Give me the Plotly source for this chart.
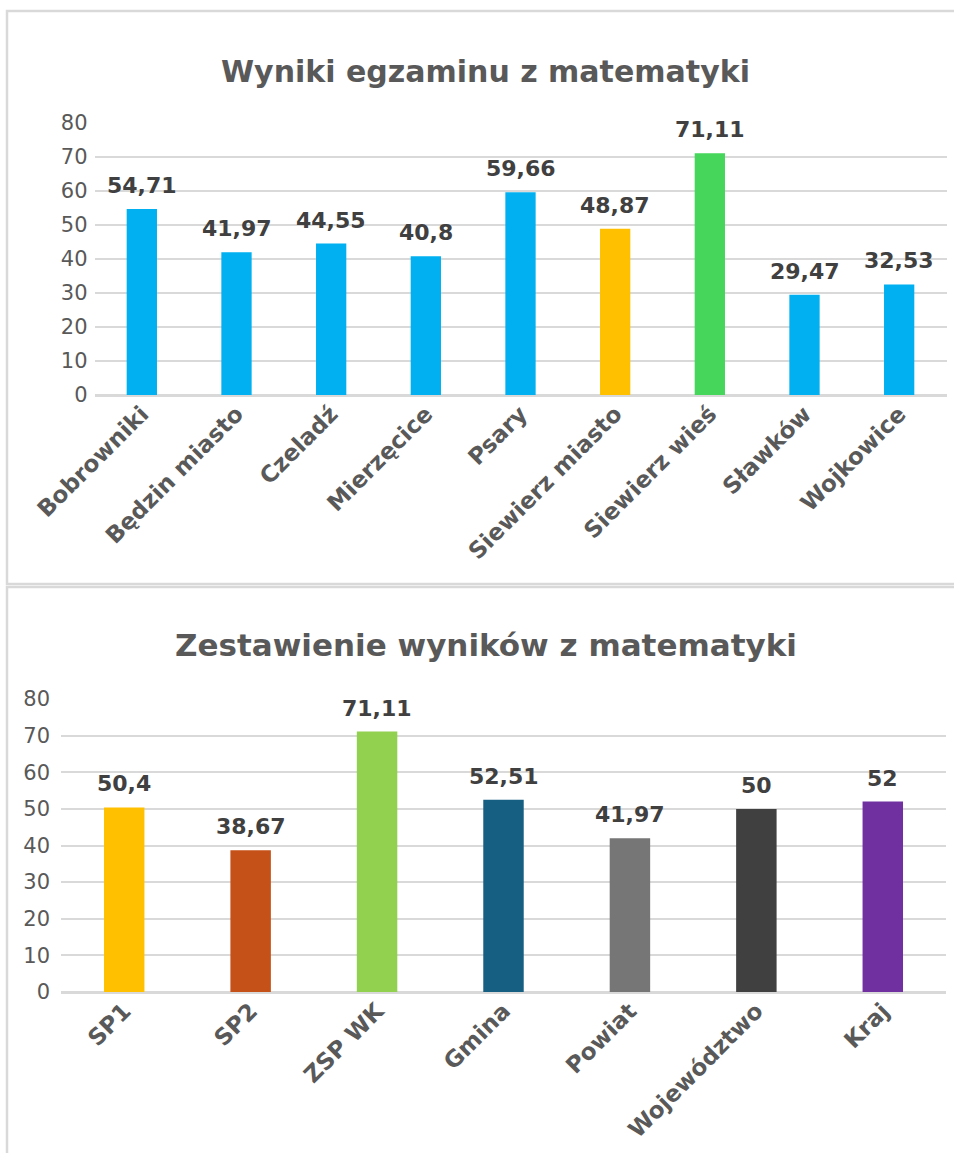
import plotly.graph_objects as go

# górny wykres - wyniki gmin
gminy = ["Bobrowniki", "Będzin miasto", "Czeladź", "Mierzęcice", "Psary",
         "Siewierz miasto", "Siewierz wieś", "Sławków", "Wojkowice"]
wyniki_gminy = [54.71, 41.97, 44.55, 40.8, 59.66, 48.87, 71.11, 29.47, 32.53]
kolory_gminy = ["#00B0F0", "#00B0F0", "#00B0F0", "#00B0F0", "#00B0F0",
                "#FFC000", "#45D65B", "#00B0F0", "#00B0F0"]

# dolny wykres - zestawienie
jednostki = ["SP1", "SP2", "ZSP WK", "Gmina", "Powiat", "Województwo", "Kraj"]
wyniki_jednostki = [50.4, 38.67, 71.11, 52.51, 41.97, 50, 52]
kolory_jednostki = ["#FFC000", "#C55018", "#92D050", "#175F82",
                    "#767676", "#404040", "#7030A0"]

y_ticks = [0, 10, 20, 30, 40, 50, 60, 70, 80]

W, H = 954, 1153
GRID = "#D9D9D9"
TXT = "#595959"
LBL = "#404040"


def fmt(v):
    return f"{v:g}".replace(".", ",")


def px_x(p):
    return p / W


def px_y(p):
    return 1 - p / H


fig = go.Figure()

fig.add_trace(go.Bar(
    x=gminy, y=wyniki_gminy, marker=dict(color=kolory_gminy, line=dict(width=0)),
    width=0.32, xaxis="x", yaxis="y", showlegend=False, hoverinfo="x+y",
))
fig.add_trace(go.Bar(
    x=jednostki, y=wyniki_jednostki, marker=dict(color=kolory_jednostki, line=dict(width=0)),
    width=0.32, xaxis="x2", yaxis="y2", showlegend=False, hoverinfo="x+y",
))

annotations = []
for name, val in zip(gminy, wyniki_gminy):
    annotations.append(dict(
        x=name, y=val, xref="x", yref="y", text=fmt(val), showarrow=False,
        yanchor="bottom", yshift=9,
        font=dict(family="DejaVu Sans", size=22, color=LBL, weight="bold"),
    ))
for name, val in zip(jednostki, wyniki_jednostki):
    annotations.append(dict(
        x=name, y=val, xref="x2", yref="y2", text=fmt(val), showarrow=False,
        yanchor="bottom", yshift=9,
        font=dict(family="DejaVu Sans", size=22, color=LBL, weight="bold"),
    ))

# tytuły
annotations.append(dict(
    x=px_x(485), y=px_y(71), xref="paper", yref="paper", showarrow=False,
    text="Wyniki egzaminu z matematyki", yanchor="middle",
    font=dict(family="DejaVu Sans", size=30, color=TXT, weight="bold"),
))
annotations.append(dict(
    x=px_x(486), y=px_y(645), xref="paper", yref="paper", showarrow=False,
    text="Zestawienie wyników z matematyki", yanchor="middle",
    font=dict(family="DejaVu Sans", size=31, color=TXT, weight="bold"),
))

xaxis_common = dict(
    showgrid=False, zeroline=False, showline=False, ticks="", automargin=False,
    tickangle=-45, tickfont=dict(family="DejaVu Sans", size=23, color=TXT, weight="bold"),
    fixedrange=True,
)
yaxis_common = dict(
    range=[0, 80], tickvals=y_ticks, showgrid=True, gridcolor=GRID, gridwidth=2,
    zeroline=True, zerolinecolor=GRID, zerolinewidth=3, showline=False,
    tickfont=dict(family="DejaVu Sans", size=21, color=TXT), ticks="",
    automargin=False, fixedrange=True,
)

fig.update_layout(
    width=W, height=H,
    margin=dict(l=0, r=0, t=0, b=0, autoexpand=False),
    paper_bgcolor="white", plot_bgcolor="white",
    bargap=0.68,
    xaxis=dict(domain=[px_x(94.5), px_x(946.5)], anchor="y", **xaxis_common),
    yaxis=dict(domain=[px_y(395), px_y(123)], anchor="x", ticklabelstandoff=6, **yaxis_common),
    xaxis2=dict(domain=[px_x(61), px_x(946)], anchor="y2", **xaxis_common),
    yaxis2=dict(domain=[px_y(992), px_y(699)], anchor="x2", ticklabelstandoff=10, **yaxis_common),
    annotations=annotations,
    shapes=[
        dict(type="rect", xref="paper", yref="paper",
             x0=px_x(7), x1=px_x(970), y0=px_y(584), y1=px_y(11),
             line=dict(color=GRID, width=2.5), fillcolor="rgba(0,0,0,0)", layer="below"),
        dict(type="rect", xref="paper", yref="paper",
             x0=px_x(7), x1=px_x(970), y0=px_y(1170), y1=px_y(587),
             line=dict(color=GRID, width=2.5), fillcolor="rgba(0,0,0,0)", layer="below"),
    ],
)

fig.write_html("out.html", config={"displayModeBar": False},
               post_script="document.body.style.margin='0';")
